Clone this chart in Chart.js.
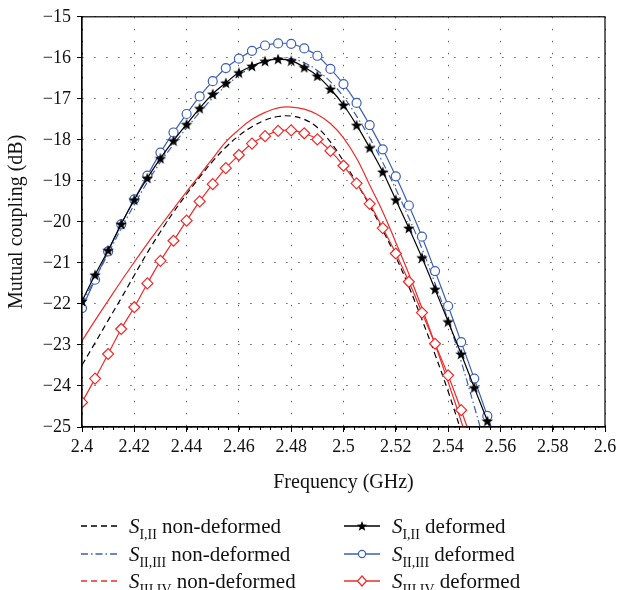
<!DOCTYPE html>
<html>
<head>
<meta charset="utf-8">
<script src="https://cdn.jsdelivr.net/npm/chart.js@4.4.0/dist/chart.umd.min.js"></script>
<style>
  body { margin: 0; background: #fff; width: 621px; height: 590px; overflow: hidden; font-family: "Liberation Serif", serif; }
  #wrap { position: relative; width: 621px; height: 500px; }
  #legend { position: absolute; left: 0; top: 0; width: 621px; height: 590px; font-size: 21px; color: #111; pointer-events: none; }
  .item { position: absolute; height: 26px; line-height: 26px; white-space: nowrap; }
  .item svg { position: absolute; left: 0; top: 7px; }
  .item span { position: absolute; left: 48px; top: 0; }
  .item i { font-style: italic; }
  .item sub { font-size: 0.66em; vertical-align: -0.42em; line-height: 0; }
</style>
</head>
<body>
<div id="wrap"><canvas id="chart"></canvas></div>
<div id="legend"></div>
<script>
// frequency points (GHz), markers every 0.005
const freq = [2.400, 2.405, 2.410, 2.415, 2.420, 2.425, 2.430, 2.435, 2.440, 2.445,
              2.450, 2.455, 2.460, 2.465, 2.470, 2.475, 2.480, 2.485, 2.490, 2.495,
              2.500, 2.505, 2.510, 2.515, 2.520, 2.525, 2.530, 2.535, 2.540, 2.545,
              2.550, 2.555, 2.560];

// deformed (with markers)
const s12Deformed = [-21.93, -21.29, -20.69, -20.05, -19.46, -18.93, -18.45, -18.02, -17.62, -17.23,
                     -16.88, -16.61, -16.36, -16.20, -16.08, -16.03, -16.07, -16.23, -16.44, -16.76,
                     -17.15, -17.64, -18.19, -18.78, -19.46, -20.15, -20.87, -21.64, -22.43, -23.22,
                     -24.04, -24.85, -25.70];
const s23Deformed = [-22.10, -21.41, -20.72, -20.06, -19.45, -18.87, -18.31, -17.82, -17.37, -16.94,
                     -16.57, -16.25, -16.02, -15.83, -15.70, -15.65, -15.66, -15.77, -15.95, -16.27,
                     -16.64, -17.10, -17.64, -18.23, -18.89, -19.60, -20.36, -21.20, -22.05, -22.93,
                     -23.82, -24.73, -25.65];
const s34Deformed = [-24.40, -23.82, -23.22, -22.61, -22.08, -21.50, -20.95, -20.46, -19.97, -19.50,
                     -19.08, -18.69, -18.37, -18.09, -17.91, -17.78, -17.77, -17.84, -17.99, -18.27,
                     -18.63, -19.06, -19.56, -20.15, -20.77, -21.46, -22.21, -22.97, -23.74, -24.59,
                     -25.50];

// non-deformed (plain lines)
const s12Plain = [-23.49, -22.95, -22.40, -21.86, -21.30, -20.75, -20.24, -19.76, -19.32, -18.91,
                  -18.52, -18.18, -17.90, -17.68, -17.52, -17.43, -17.42, -17.50, -17.70, -18.05,
                  -18.52, -19.05, -19.60, -20.20, -20.85, -21.58, -22.38, -23.23, -24.13, -25.10];
const s23Plain = [-22.00, -21.38, -20.78, -20.16, -19.58, -19.03, -18.54, -18.11, -17.71, -17.33,
                  -16.98, -16.69, -16.43, -16.23, -16.09, -16.01, -16.02, -16.12, -16.31, -16.58,
                  -16.95, -17.42, -17.95, -18.55, -19.20, -19.90, -20.65, -21.50, -22.40, -23.40,
                  -24.50, -25.60];
const s34Plain = [-22.90, -22.40, -21.92, -21.44, -20.98, -20.53, -20.10, -19.68, -19.26, -18.86,
                  -18.45, -18.05, -17.75, -17.50, -17.33, -17.22, -17.20, -17.25, -17.38, -17.60,
                  -17.95, -18.45, -19.10, -19.75, -20.50, -21.27, -22.10, -22.98, -23.90, -24.86,
                  -25.85];

const xTicks = [2.4, 2.42, 2.44, 2.46, 2.48, 2.5, 2.52, 2.54, 2.56, 2.58, 2.6];
const yTicks = [-25, -24, -23, -22, -21, -20, -19, -18, -17, -16, -15];
const subs = ["I,II", "II,III", "III,IV"];

const FONT = "'Liberation Serif', 'DejaVu Serif', serif";
const BLUE = "#3d5eb6";
const RED = "#ee2b2b";

function pts(vals) {
  return vals.map((v, i) => ({ x: freq[i], y: v }));
}

// filled five point star for the marker
function makeStar(size) {
  const c = document.createElement("canvas");
  c.width = size; c.height = size;
  const g = c.getContext("2d");
  const r = size / 2, ri = r * 0.42;
  g.beginPath();
  for (let k = 0; k < 10; k++) {
    const a = -Math.PI / 2 + k * Math.PI / 5;
    const rr = k % 2 ? ri : r;
    g.lineTo(r + rr * Math.cos(a), r + 0.6 + rr * Math.sin(a));
  }
  g.closePath();
  g.fillStyle = "#000";
  g.fill();
  return c;
}
const star = makeStar(12);

const frame = {
  id: "frame",
  afterDatasetsDraw(chart) {
    const { ctx, chartArea: a, scales: { x } } = chart;
    ctx.save();
    ctx.strokeStyle = "#000";
    ctx.lineWidth = 1.2;
    ctx.strokeRect(a.left, a.top, a.right - a.left, a.bottom - a.top);
    // minor ticks on the frequency axis
    ctx.lineWidth = 1;
    for (let k = 0; k <= 50; k++) {
      const px = Math.round(x.getPixelForValue(2.4 + k * 0.004)) + 0.5;
      ctx.beginPath();
      ctx.moveTo(px, a.bottom);
      ctx.lineTo(px, a.bottom + 3);
      ctx.stroke();
    }
    ctx.restore();
  }
};

const common = { fill: false, tension: 0.4, borderWidth: 1.2 };

new Chart(document.getElementById("chart"), {
  type: "line",
  data: {
    datasets: [
      { ...common, data: pts(s12Deformed), borderColor: "#000", pointStyle: star, pointRadius: 6 },
      { ...common, data: pts(s23Deformed), borderColor: BLUE, pointStyle: "circle", pointRadius: 4.5,
        pointBorderWidth: 1.2, pointBackgroundColor: "#fff", pointBorderColor: BLUE },
      { ...common, data: pts(s34Deformed), borderColor: RED, pointStyle: "rectRot", pointRadius: 5.5,
        pointBorderWidth: 1.2, pointBackgroundColor: "#fff", pointBorderColor: RED },
      { ...common, data: pts(s12Plain), borderColor: "#000", borderDash: [6, 4], pointRadius: 0 },
      { ...common, data: pts(s23Plain), borderColor: BLUE, borderDash: [7, 3, 1.5, 3], pointRadius: 0 },
      { ...common, data: pts(s34Plain), borderColor: RED, pointRadius: 0 }
    ]
  },
  options: {
    responsive: true,
    maintainAspectRatio: false,
    animation: false,
    events: [],
    layout: { padding: { top: 14, right: 16, left: 0, bottom: 0 } },
    plugins: { legend: { display: false }, tooltip: { enabled: false } },
    scales: {
      x: {
        type: "linear", min: 2.4, max: 2.6,
        afterBuildTicks: s => { s.ticks = xTicks.map(v => ({ value: v })); },
        afterFit: s => { s.height = 73; },
        ticks: { font: { family: FONT, size: 18 }, color: "#111", padding: 4, maxRotation: 0,
                 callback: v => String(+Number(v).toFixed(2)) },
        grid: { color: "rgba(0,0,0,0.6)", lineWidth: 1, tickLength: 5, tickColor: "#000" },
        border: { color: "#000", width: 1.2, dash: [1.5, 10.5] },
        title: { display: true, text: "Frequency (GHz)", color: "#111",
                 font: { family: FONT, size: 20 }, padding: { top: 2, bottom: 5 } }
      },
      y: {
        type: "linear", min: -25, max: -15,
        afterBuildTicks: s => { s.ticks = yTicks.map(v => ({ value: v })); },
        afterFit: s => { s.width = 82; },
        ticks: { font: { family: FONT, size: 18 }, color: "#111", padding: 6,
                 callback: v => String(v).replace("-", "\u2212") },
        grid: { color: "rgba(0,0,0,0.6)", lineWidth: 1, tickLength: 5, tickColor: "#000" },
        border: { color: "#000", width: 1.2, dash: [1.5, 10.5] },
        title: { display: true, text: "Mutual coupling (dB)", color: "#111",
                 font: { family: FONT, size: 20 }, padding: { top: 5, bottom: 2 } }
      }
    }
  },
  plugins: [frame]
});

// legend with subscripts, built as html
function sample(color, dash, marker) {
  let s = '<svg width="38" height="12"><line x1="0" y1="6" x2="36" y2="6" stroke="' + color +
          '" stroke-width="1.3"' + (dash ? ' stroke-dasharray="' + dash + '"' : '') + '/>';
  if (marker === "star") {
    let p = [];
    for (let k = 0; k < 10; k++) {
      const a = -Math.PI / 2 + k * Math.PI / 5, rr = k % 2 ? 2.3 : 5.5;
      p.push((18 + rr * Math.cos(a)).toFixed(2) + "," + (6.4 + rr * Math.sin(a)).toFixed(2));
    }
    s += '<polygon points="' + p.join(" ") + '" fill="#000"/>';
  } else if (marker === "circle") {
    s += '<circle cx="18" cy="6" r="3.6" fill="#fff" stroke="' + color + '" stroke-width="1.2"/>';
  } else if (marker === "diamond") {
    s += '<polygon points="18,1 22.5,6 18,11 13.5,6" fill="#fff" stroke="' + color + '" stroke-width="1.2"/>';
  }
  return s + "</svg>";
}
const legendRows = [
  [sample("#000", "6 4"), subs[0], "non-deformed", sample("#000", "", "star"), subs[0], "deformed"],
  [sample(BLUE, "7 3 1.5 3"), subs[1], "non-deformed", sample(BLUE, "", "circle"), subs[1], "deformed"],
  [sample(RED, "6 4"), subs[2], "non-deformed", sample(RED, "", "diamond"), subs[2], "deformed"]
];
const rowTop = [513, 541, 568];
let html = "";
legendRows.forEach((r, i) => {
  html += '<div class="item" style="left:81px;top:' + rowTop[i] + 'px">' + r[0] +
          '<span><i>S</i><sub>' + r[1] + '</sub> ' + r[2] + '</span></div>';
  html += '<div class="item" style="left:344px;top:' + rowTop[i] + 'px">' + r[3] +
          '<span><i>S</i><sub>' + r[4] + '</sub> ' + r[5] + '</span></div>';
});
document.getElementById("legend").innerHTML = html;
</script>
</body>
</html>
